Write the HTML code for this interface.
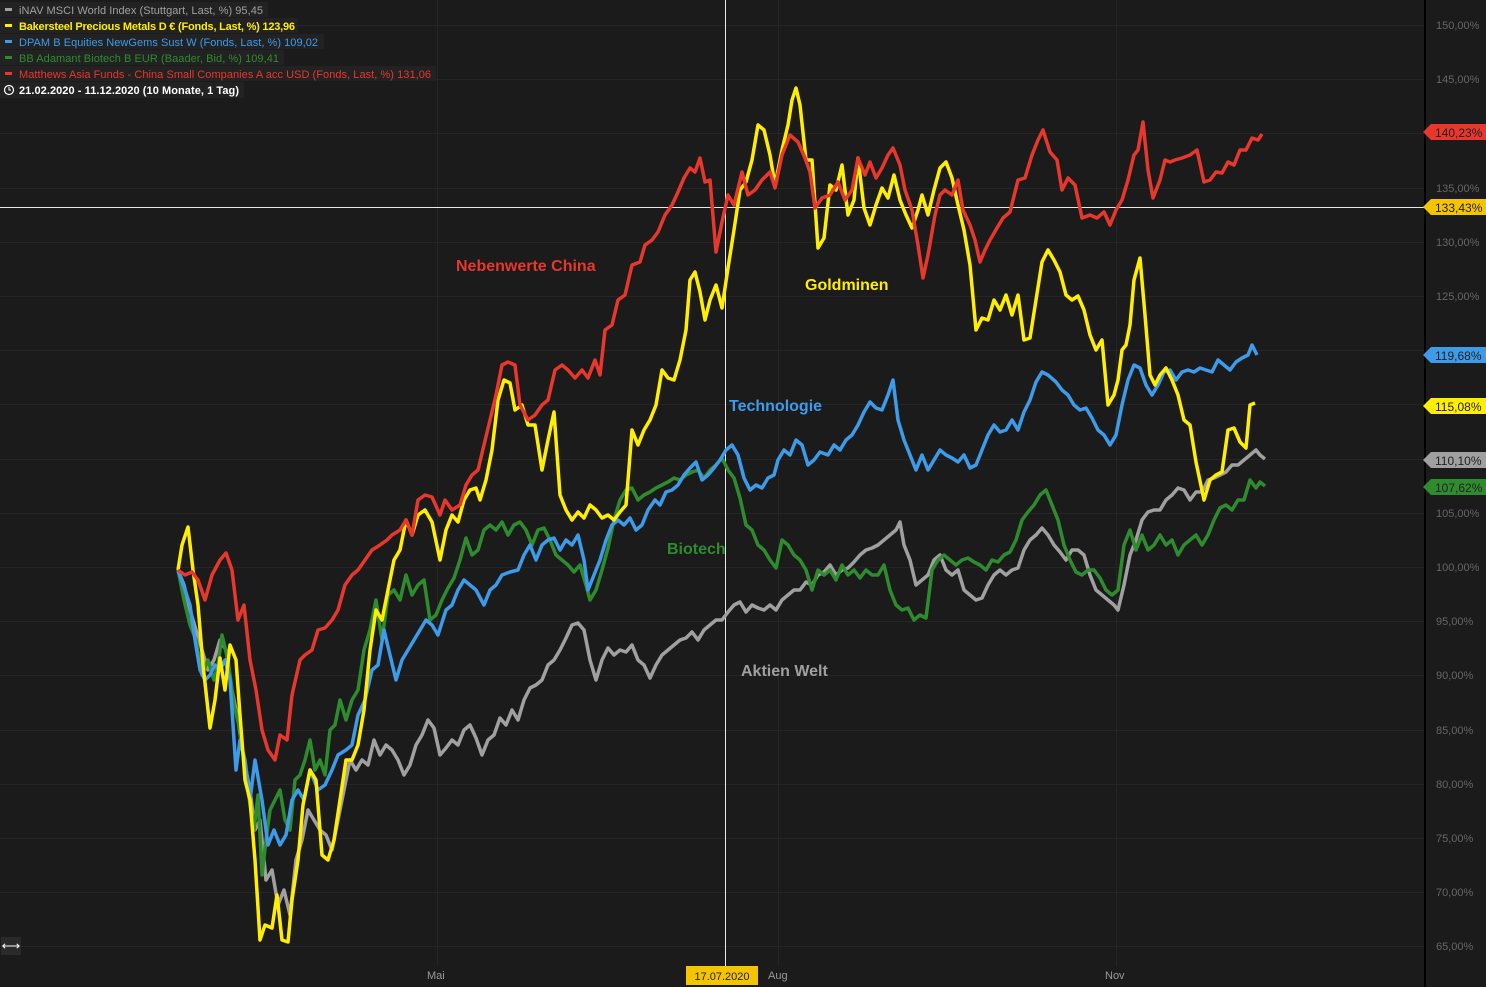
<!DOCTYPE html>
<html><head><meta charset="utf-8"><style>
html,body{margin:0;padding:0;background:#1b1b1b;}
svg{display:block;font-family:"Liberation Sans",sans-serif;}
</style></head><body>
<svg width="1486" height="987" xmlns="http://www.w3.org/2000/svg">
<rect width="1486" height="987" fill="#1b1b1b"/>
<g stroke="#252525" stroke-width="1">
<line x1="0" y1="25.5" x2="1425" y2="25.5"/><line x1="0" y1="79.5" x2="1425" y2="79.5"/><line x1="0" y1="133.5" x2="1425" y2="133.5"/><line x1="0" y1="188.5" x2="1425" y2="188.5"/><line x1="0" y1="242.5" x2="1425" y2="242.5"/><line x1="0" y1="296.5" x2="1425" y2="296.5"/><line x1="0" y1="350.5" x2="1425" y2="350.5"/><line x1="0" y1="404.5" x2="1425" y2="404.5"/><line x1="0" y1="459.5" x2="1425" y2="459.5"/><line x1="0" y1="513.5" x2="1425" y2="513.5"/><line x1="0" y1="567.5" x2="1425" y2="567.5"/><line x1="0" y1="621.5" x2="1425" y2="621.5"/><line x1="0" y1="675.5" x2="1425" y2="675.5"/><line x1="0" y1="730.5" x2="1425" y2="730.5"/><line x1="0" y1="784.5" x2="1425" y2="784.5"/><line x1="0" y1="838.5" x2="1425" y2="838.5"/><line x1="0" y1="892.5" x2="1425" y2="892.5"/><line x1="0" y1="946.5" x2="1425" y2="946.5"/>
<line x1="437.5" y1="0" x2="437.5" y2="966"/><line x1="778.5" y1="0" x2="778.5" y2="966"/><line x1="1116.5" y1="0" x2="1116.5" y2="966"/>
</g>
<line x1="1425" y1="0" x2="1425" y2="987" stroke="#000" stroke-width="2"/>
<g fill="#666" font-size="11">
<text x="1436" y="29">150,00%</text><text x="1436" y="83">145,00%</text><text x="1436" y="192">135,00%</text><text x="1436" y="246">130,00%</text><text x="1436" y="300">125,00%</text><text x="1436" y="517">105,00%</text><text x="1436" y="571">100,00%</text><text x="1436" y="625">95,00%</text><text x="1436" y="679">90,00%</text><text x="1436" y="734">85,00%</text><text x="1436" y="788">80,00%</text><text x="1436" y="842">75,00%</text><text x="1436" y="896">70,00%</text><text x="1436" y="950">65,00%</text>
</g>
<g fill="#999" font-size="11"><text x="427" y="979">Mai</text><text x="768" y="979">Aug</text><text x="1105" y="979">Nov</text></g>
<line x1="725.5" y1="0" x2="725.5" y2="966" stroke="#e8e8e8" stroke-width="1"/>
<line x1="0" y1="207.5" x2="1425" y2="207.5" stroke="#e8e8e8" stroke-width="1"/>
<rect x="686" y="966" width="72" height="19" fill="#f5c400"/><text x="722" y="980" font-size="11" fill="#222" text-anchor="middle">17.07.2020</text>
<g fill="none" stroke-width="3.5" stroke-linejoin="round">
<polyline stroke="#a0a0a0" points="178,570 184,585 190,610 196,630 202,650 208,670 214,660 220,640 226,650 232,690 238,720 244,760 250,790 255,830 260,820 266,880 272,870 278,905 284,890 290,915 296,860 302,840 308,810 314,820 320,830 326,835 332,850 338,820 344,790 350,760 356,770 362,760 368,765 374,740 380,755 386,745 392,750 398,760 404,775 410,765 416,745 422,735 428,720 434,728 440,755 446,748 452,740 458,745 464,730 470,725 476,738 482,755 488,740 494,735 500,718 506,725 512,710 518,720 524,700 530,688 536,685 542,680 548,665 554,660 560,650 566,638 572,625 578,623 584,630 590,660 596,680 602,660 608,648 614,655 620,650 626,652 632,645 638,660 644,665 650,678 656,665 662,655 668,650 674,645 680,640 686,638 692,632 698,640 704,630 710,625 716,620 722,620 728,612 734,605 740,602 746,612 752,605 758,608 764,610 770,605 776,610 782,600 788,595 794,590 800,590 806,582 812,585 818,575 824,572 830,565 836,575 842,570 848,568 854,562 860,555 866,550 872,548 878,545 884,540 890,535 896,530 900,522 904,545 910,560 916,585 922,580 928,575 934,560 940,555 946,570 952,575 958,570 964,590 970,595 976,600 982,598 988,585 994,575 1000,570 1006,575 1012,570 1018,568 1024,550 1030,540 1036,535 1042,528 1048,535 1054,545 1060,552 1066,560 1072,550 1078,550 1084,555 1090,575 1096,590 1102,595 1108,600 1114,605 1118,610 1124,585 1130,555 1136,540 1142,520 1148,512 1154,510 1160,510 1166,500 1172,495 1178,488 1184,490 1190,500 1196,492 1202,492 1208,480 1214,478 1220,475 1226,472 1232,465 1238,465 1244,460 1250,455 1256,450 1260,455 1265,459"/>
<polyline stroke="#2e8b2e" points="178,570 184,600 190,625 196,640 202,675 208,660 214,680 218,665 222,635 228,660 234,705 240,730 245,770 250,805 254,830 258,795 262,875 266,840 270,810 275,800 280,790 285,820 290,830 295,780 300,775 305,760 310,740 315,770 320,760 325,775 330,730 335,725 340,700 346,720 352,700 358,690 364,650 370,630 376,600 382,640 388,595 394,590 400,600 406,575 412,595 418,585 424,580 430,620 436,615 442,600 448,588 454,578 460,560 466,538 472,555 478,550 484,530 490,525 496,530 502,522 508,535 514,525 520,522 526,530 532,545 538,530 544,528 550,540 556,555 562,560 568,565 574,572 580,565 586,585 590,600 596,590 602,570 608,548 614,520 620,500 626,490 632,488 638,500 644,495 650,492 656,488 662,485 668,482 674,478 680,480 686,475 692,472 698,470 704,478 710,470 716,465 722,458 728,470 734,478 740,498 746,525 752,530 758,545 764,550 770,560 776,568 782,540 788,545 794,555 800,560 806,570 812,590 818,570 824,575 830,570 836,580 842,565 848,575 854,570 860,578 866,570 872,575 878,575 884,565 890,590 896,605 902,610 908,608 914,620 920,615 926,618 932,570 938,560 944,555 950,560 956,565 962,560 968,558 974,562 980,565 986,570 992,560 998,562 1004,555 1010,552 1016,540 1022,520 1028,512 1034,505 1040,495 1046,490 1052,505 1058,520 1064,545 1070,560 1076,572 1082,575 1088,570 1094,570 1100,578 1106,590 1112,595 1118,590 1124,545 1130,530 1136,550 1142,535 1148,550 1154,545 1160,535 1166,545 1172,540 1178,555 1184,545 1190,540 1196,535 1202,545 1208,535 1214,520 1220,508 1226,505 1232,510 1238,500 1244,500 1250,480 1256,488 1260,482 1265,486"/>
<polyline stroke="#3d9be9" points="178,570 185,590 190,605 195,640 200,670 205,680 210,675 215,665 220,670 225,660 230,680 236,770 240,740 245,760 250,800 255,760 262,800 268,845 274,830 280,845 286,835 292,800 298,790 304,800 310,770 318,790 325,785 332,770 338,755 346,750 352,745 358,715 365,700 372,670 378,665 384,630 390,655 396,680 402,660 408,650 414,640 420,630 426,620 432,625 438,635 446,610 452,605 458,590 464,580 470,585 476,590 484,605 490,590 496,585 502,575 510,572 518,570 524,555 530,545 536,560 542,545 548,540 554,538 560,550 566,540 572,545 578,535 584,560 588,590 594,575 600,560 606,540 612,525 618,520 624,525 630,518 636,530 642,525 648,510 655,500 660,505 666,492 672,490 678,485 684,475 690,468 696,462 702,480 708,475 714,468 720,460 726,450 732,445 738,455 744,478 750,490 756,485 762,488 768,478 774,475 778,460 784,450 790,455 796,440 802,445 808,465 814,460 820,452 828,455 834,445 840,450 846,440 852,435 858,425 864,412 870,402 876,408 882,410 888,395 893,380 898,420 904,440 910,455 916,470 922,455 928,470 934,460 940,450 946,455 952,458 958,462 964,455 970,468 976,465 982,450 988,435 994,425 1000,432 1006,430 1012,420 1018,430 1024,412 1030,400 1036,382 1042,372 1048,375 1056,382 1062,390 1068,395 1074,405 1080,410 1086,408 1092,418 1098,430 1104,435 1110,445 1116,435 1122,405 1128,380 1134,365 1140,368 1146,385 1152,395 1158,385 1164,372 1170,370 1176,380 1182,372 1188,370 1194,372 1200,368 1206,370 1212,372 1218,360 1224,365 1230,370 1236,362 1242,358 1248,355 1252,345 1257,355"/>
<polyline stroke="#ffee00" points="178,570 182,545 188,527 193,570 198,605 203,665 210,728 215,700 220,658 225,690 230,645 236,660 240,715 245,780 250,800 255,860 260,940 265,925 272,928 277,895 282,940 288,942 292,900 298,860 303,805 310,770 316,780 322,855 328,860 334,840 340,800 346,760 352,760 358,745 364,710 370,650 376,610 382,620 388,590 394,560 400,550 406,520 412,535 418,515 425,510 432,522 440,560 446,530 452,515 458,522 464,500 470,490 476,488 480,500 486,480 492,450 498,400 504,380 510,383 515,410 522,405 528,425 535,425 542,470 548,440 554,412 560,495 566,510 572,520 578,512 584,518 590,505 596,510 602,518 608,515 614,520 620,512 626,505 632,430 638,445 644,430 650,420 656,405 662,370 668,378 674,380 680,360 686,330 690,280 695,272 700,292 705,320 710,300 716,285 722,308 728,268 734,230 740,190 746,182 752,160 758,125 764,130 770,155 775,185 782,150 788,125 792,100 796,88 800,105 806,160 812,160 818,248 824,238 830,185 836,190 842,165 848,215 854,200 858,158 864,208 870,225 876,205 882,188 888,198 894,175 900,200 906,215 912,228 918,210 922,195 928,215 934,190 940,168 946,162 952,178 958,205 964,230 970,265 976,330 982,318 988,320 994,300 1000,310 1006,295 1012,315 1018,295 1024,340 1030,338 1036,300 1042,262 1048,250 1054,260 1060,272 1066,295 1072,300 1078,296 1084,310 1090,335 1096,350 1102,340 1108,405 1114,395 1118,380 1122,350 1126,345 1130,325 1134,280 1140,258 1145,315 1150,375 1155,385 1160,375 1166,368 1172,380 1178,395 1184,420 1190,425 1196,462 1204,500 1210,480 1216,475 1222,472 1228,430 1234,428 1240,442 1246,448 1250,405 1255,403"/>
<polyline stroke="#e8372c" points="178,570 185,575 192,572 198,580 205,600 212,575 220,560 226,553 232,570 238,620 244,605 250,660 256,690 262,730 268,750 275,760 280,735 287,740 292,695 300,660 305,655 312,650 318,630 325,628 332,620 338,610 345,585 352,575 358,570 365,560 372,550 380,545 387,540 392,535 400,530 406,520 412,535 418,500 425,495 432,497 440,515 445,500 452,510 460,505 466,485 472,475 478,470 484,445 490,420 496,395 502,365 508,362 515,365 520,405 528,420 535,415 542,405 548,400 555,370 562,365 568,370 575,378 582,370 588,378 595,360 600,375 605,330 612,325 618,300 625,295 632,265 640,262 645,245 652,240 658,232 665,215 672,205 678,192 684,178 690,168 695,172 700,158 705,182 710,180 716,252 722,222 728,195 734,205 742,172 748,195 755,190 762,180 770,172 775,188 782,155 790,135 798,142 805,158 810,172 815,208 822,198 830,195 838,182 845,200 852,190 858,158 865,175 870,162 876,178 882,168 888,155 893,148 900,165 905,190 912,210 918,245 923,278 928,255 935,215 940,195 945,190 952,195 958,180 963,210 970,225 975,240 980,262 985,250 990,240 997,228 1003,218 1010,212 1018,180 1025,178 1032,155 1038,140 1043,130 1050,152 1057,160 1062,190 1068,178 1075,185 1082,218 1090,215 1097,218 1104,212 1110,225 1116,210 1122,200 1128,180 1134,155 1138,150 1143,122 1148,170 1153,198 1160,180 1165,160 1170,162 1175,160 1182,158 1190,155 1197,150 1204,182 1210,180 1216,172 1222,173 1228,162 1234,165 1240,150 1246,150 1252,138 1258,140 1262,134"/>
</g>
<g font-size="16" font-weight="bold">
<text x="456" y="271" fill="#e8372c">Nebenwerte China</text>
<text x="805" y="290" fill="#ffee00">Goldminen</text>
<text x="729" y="411" fill="#3d9be9">Technologie</text>
<text x="667" y="554" fill="#2e8b2e">Biotech</text>
<text x="741" y="676" fill="#a0a0a0">Aktien Welt</text>
</g>
<g font-size="12">
<path d="M1423,132 l8,-8 h55 v16 h-55z" fill="#e8372c"/><text x="1435" y="137" fill="#222">140,23%</text>
<path d="M1423,207 l8,-8 h55 v16 h-55z" fill="#f5c400"/><text x="1435" y="212" fill="#222">133,43%</text>
<path d="M1423,355 l8,-8 h55 v16 h-55z" fill="#3d9be9"/><text x="1435" y="360" fill="#222">119,68%</text>
<path d="M1423,406 l8,-8 h55 v16 h-55z" fill="#ffee00"/><text x="1435" y="411" fill="#222">115,08%</text>
<path d="M1423,460 l8,-8 h55 v16 h-55z" fill="#a0a0a0"/><text x="1435" y="465" fill="#222">110,10%</text>
<path d="M1423,487 l8,-8 h55 v16 h-55z" fill="#2e8b2e"/><text x="1435" y="492" fill="#222">107,62%</text>
</g>
<g font-size="11">
<rect x="0" y="2" width="268" height="15" fill="#222"/><rect x="5" y="8" width="7" height="3" fill="#a0a0a0"/><text x="19" y="14" fill="#a0a0a0" textLength="244">iNAV MSCI World Index (Stuttgart, Last, %)  95,45</text>
<rect x="0" y="18" width="298" height="15" fill="#222"/><rect x="5" y="24" width="7" height="3" fill="#ffee00"/><text x="19" y="30" fill="#ffee00" font-weight="bold" textLength="276">Bakersteel Precious Metals D € (Fonds, Last, %)  123,96</text>
<rect x="0" y="34" width="324" height="15" fill="#222"/><rect x="5" y="40" width="7" height="3" fill="#3d9be9"/><text x="19" y="46" fill="#3d9be9" textLength="299">DPAM B Equities NewGems Sust W (Fonds, Last, %)  109,02</text>
<rect x="0" y="50" width="284" height="15" fill="#222"/><rect x="5" y="56" width="7" height="3" fill="#2e8b2e"/><text x="19" y="62" fill="#2e8b2e" textLength="260">BB Adamant Biotech B EUR (Baader, Bid, %)  109,41</text>
<rect x="0" y="66" width="436" height="15" fill="#222"/><rect x="5" y="72" width="7" height="3" fill="#e8372c"/><text x="19" y="78" fill="#e8372c" textLength="412">Matthews Asia Funds - China Small Companies A acc USD (Fonds, Last, %)  131,06</text>
<rect x="0" y="82" width="244" height="16" fill="#222"/><circle cx="9" cy="90" r="4.5" fill="none" stroke="#fff" stroke-width="1.2"/><path d="M9,87 v3 h2" stroke="#fff" fill="none"/><text x="19" y="94" fill="#fff" font-weight="bold" textLength="220">21.02.2020 - 11.12.2020   (10 Monate, 1 Tag)</text>
</g>
<rect x="1" y="937" width="20" height="18" fill="#2a2a2a"/><text x="11" y="950" font-size="13" fill="#fff" text-anchor="middle">⟷</text>
</svg>
</body></html>
